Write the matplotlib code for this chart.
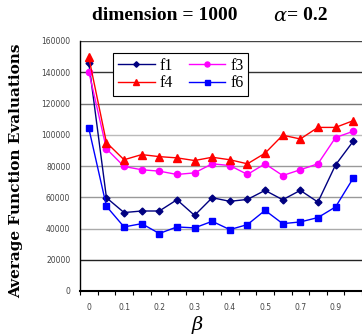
import matplotlib
matplotlib.use("Agg")
import matplotlib.pyplot as plt
import numpy as np

tick_labels = ["0", "", "0.1", "", "0.2", "", "0.3", "", "0.4", "", "0.5", "", "0.7", "", "0.9", ""]
f1 = [146000, 59700, 50200, 51200, 51200, 58400, 48400, 59700, 57400, 58600, 64400, 58400, 64400, 56900, 80700, 95800]
f3 = [140400, 91000, 79700, 77600, 76700, 74600, 75600, 81400, 80300, 74600, 81400, 73900, 77600, 81400, 98200, 102200]
f4 = [149500, 95000, 84000, 87300, 86000, 85200, 83500, 85600, 84000, 81400, 88200, 99700, 97300, 104700, 104700, 109000]
f6 = [104100, 54200, 41000, 43100, 36800, 41000, 40400, 44600, 39300, 42500, 51600, 43100, 44200, 47000, 53800, 72200]
y_ticks = [0, 20000, 40000, 60000, 80000, 100000, 120000, 140000, 160000]

fig = plt.figure(figsize=(3.62, 3.35), dpi=100)
ax = fig.add_axes([80/362, 44/335, 282/362, 250/335])
x = np.arange(len(tick_labels))

ax.plot(x, f1, color="#000080", marker="D", markersize=3.5, lw=1.0, label="f1")
ax.plot(x, f3, color="#FF00FF", marker="o", markersize=4.5, lw=1.0, label="f3")
ax.plot(x, f4, color="#FF0000", marker="^", markersize=5.5, lw=1.0, label="f4")
ax.plot(x, f6, color="#0000FF", marker="s", markersize=4.5, lw=1.0, label="f6")

handles, labels = ax.get_legend_handles_labels()
order = [0, 2, 1, 3]
leg = ax.legend([handles[i] for i in order], [labels[i] for i in order], ncol=2,
                loc="upper left", bbox_to_anchor=(0.117, 0.952), borderaxespad=0,
                frameon=True, fancybox=False,
                edgecolor="black", framealpha=1, prop={"family": "Liberation Serif", "size": 11.5},
                handlelength=2.3, handletextpad=0.3, columnspacing=1.0, borderpad=0.3,
                labelspacing=0.1, markerscale=0.8)
leg.get_frame().set_linewidth(0.8)

ax.set_xlim(-0.5, 15.5)
ax.set_ylim(0, 160000)
ax.set_yticks(y_ticks)
ax.set_yticklabels([str(v) for v in y_ticks], fontsize=5.5, color="#444444")
ax.tick_params(axis="y", length=0, pad=7)
ax.set_xticks(x)
ax.set_xticklabels(tick_labels, fontsize=5.5, color="#444444")
ax.set_xticks(np.arange(-0.5, 16, 1), minor=True)
ax.tick_params(axis="x", which="major", length=0, pad=9)
ax.tick_params(axis="x", which="minor", length=3, width=0.8, direction="out")

grid_colors = {20000: "#222222", 40000: "#aaaaaa", 60000: "#999999", 80000: "#999999",
               100000: "#bbbbbb", 120000: "#777777", 140000: "#333333", 160000: "#444444"}
for v, c in grid_colors.items():
    ax.axhline(v, color=c, lw=1.0, zorder=0)

ax.spines["right"].set_visible(False)
ax.spines["top"].set_visible(False)
ax.spines["left"].set_linewidth(1.0)
ax.spines["bottom"].set_linewidth(1.5)

ax.set_ylabel("Average Function Evaluations", fontsize=11, fontweight="bold",
              family="DejaVu Serif", labelpad=4)
ax.yaxis.set_label_coords(-0.2, 0.48)
fig.text(197/362, 1 - 325/335, "β", fontsize=14, style="italic", family="DejaVu Serif",
         ha="center", va="center")

fig.text(165/362, 1 - 16/335, "dimension = 1000", fontsize=14, fontweight="bold",
         family="Liberation Serif", ha="center", va="center")
fig.text(286/362, 1 - 16/335, "α", fontsize=14, style="italic",
         family="DejaVu Serif", ha="right", va="center")
fig.text(287/362, 1 - 16/335, "= 0.2", fontsize=14, fontweight="bold",
         family="Liberation Serif", ha="left", va="center")

fig.savefig("out.png", dpi=100)
